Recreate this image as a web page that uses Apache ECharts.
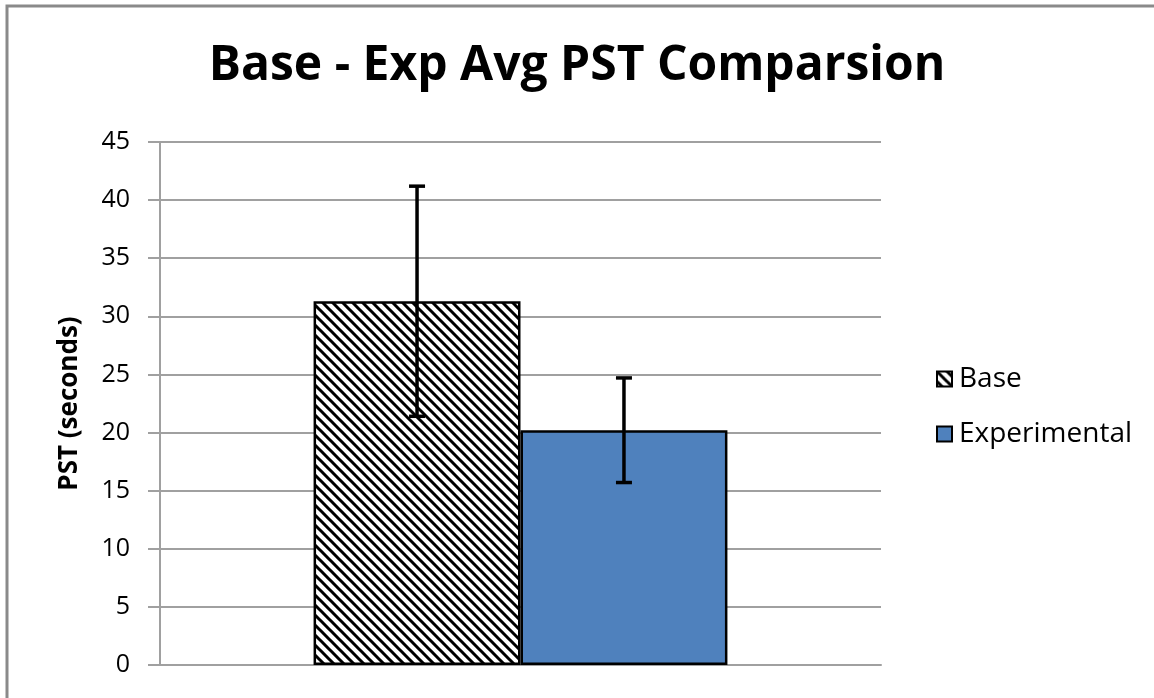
<!DOCTYPE html>
<html>
<head>
<meta charset="utf-8">
<script src="https://cdn.jsdelivr.net/npm/echarts@6/dist/echarts.min.js"></script>
<style>html,body{margin:0;padding:0;background:#fff;}#c{width:1154px;height:698px;}</style>
</head>
<body>
<div id="c"></div>
<script>
const categories = ['PST'];
const seriesNames = ['Base', 'Experimental'];
const baseMean = [31.3];
const baseErr = [9.9];
const expMean = [20.2];
const expErr = [4.5];
const yMin = 0, yMax = 45, yStep = 5;

function hatch() {
  const s = 10;
  const c = document.createElement('canvas');
  c.width = s; c.height = s;
  const g = c.getContext('2d');
  g.fillStyle = '#fff'; g.fillRect(0, 0, s, s);
  g.strokeStyle = '#000'; g.lineWidth = 3;
  g.beginPath();
  g.moveTo(-s, -s); g.lineTo(2 * s, 2 * s);
  g.moveTo(-s, 0); g.lineTo(s, 2 * s);
  g.moveTo(0, -s); g.lineTo(2 * s, s);
  g.stroke();
  return c;
}
const hatchPattern = { image: hatch(), repeat: 'repeat' };
const BAR_FRAC = 0.287;

function errRender(sign) {
  return function (params, api) {
    const band = api.size([1, 0])[0];
    const off = sign * band * BAR_FRAC / 2;
    const mean = api.value(1), err = api.value(2);
    const top = api.coord([api.value(0), mean + err]);
    const bot = api.coord([api.value(0), mean - err]);
    const x = top[0] + off;
    const cap = 8;
    const st = { stroke: '#000', lineWidth: 3.5 };
    return {
      type: 'group',
      children: [
        { type: 'line', shape: { x1: x, y1: top[1], x2: x, y2: bot[1] }, style: st },
        { type: 'line', shape: { x1: x - cap, y1: top[1], x2: x + cap, y2: top[1] }, style: st },
        { type: 'line', shape: { x1: x - cap, y1: bot[1], x2: x + cap, y2: bot[1] }, style: st }
      ]
    };
  };
}

const chart = echarts.init(document.getElementById('c'), null, { renderer: 'canvas' });
chart.setOption({
  animation: false,
  backgroundColor: '#fff',
  graphic: [{
    type: 'rect', shape: { x: 7, y: 6, width: 1160, height: 710 },
    style: { fill: 'none', stroke: '#8a8a8a', lineWidth: 3 }, z: 100
  }],
  title: {
    text: 'Base - Exp Avg PST Comparsion',
    left: 'center', top: 37,
    textStyle: { fontFamily: 'Open Sans', fontWeight: 'bold', fontSize: 48, color: '#000' }
  },
  legend: {
    orient: 'vertical', left: 931, top: 360, itemGap: 27,
    itemWidth: 15, itemHeight: 15, icon: 'rect',
    data: seriesNames,
    textStyle: { fontFamily: 'Open Sans', fontSize: 28, color: '#000', padding: [0, 0, 0, 2] }
  },
  grid: { left: 160, right: 273, top: 142, bottom: 33 },
  xAxis: {
    type: 'category', data: categories,
    axisLine: { lineStyle: { color: '#a0a0a0', width: 2 } },
    axisTick: { show: false }, axisLabel: { show: false }
  },
  yAxis: {
    type: 'value', min: yMin, max: yMax, interval: yStep,
    name: 'PST (seconds)', nameLocation: 'middle', nameGap: 77,
    nameTextStyle: { fontFamily: 'Open Sans', fontWeight: 'bold', fontSize: 26, color: '#000' },
    axisLine: { show: true, lineStyle: { color: '#a0a0a0', width: 2 } },
    axisTick: { show: true, length: 12, lineStyle: { color: '#a0a0a0', width: 2 } },
    axisLabel: { fontFamily: 'Open Sans', fontSize: 25, color: '#000', margin: 30 },
    splitLine: { lineStyle: { color: '#a0a0a0', width: 2 } }
  },
  series: [
    {
      name: 'Base', type: 'bar', data: baseMean, barWidth: (BAR_FRAC * 100) + '%', barGap: '0%',
      itemStyle: { color: hatchPattern, borderColor: '#000', borderWidth: 2.5 }
    },
    {
      name: 'Experimental', type: 'bar', data: expMean, barWidth: (BAR_FRAC * 100) + '%', barGap: '0%',
      itemStyle: { color: '#4f81bd', borderColor: '#000', borderWidth: 2.5 }
    },
    {
      type: 'custom', name: 'BaseErr', renderItem: errRender(-1), z: 10,
      data: categories.map((c, i) => [i, baseMean[i], baseErr[i]])
    },
    {
      type: 'custom', name: 'ExpErr', renderItem: errRender(1), z: 10,
      data: categories.map((c, i) => [i, expMean[i], expErr[i]])
    }
  ]
});
</script>
</body>
</html>
